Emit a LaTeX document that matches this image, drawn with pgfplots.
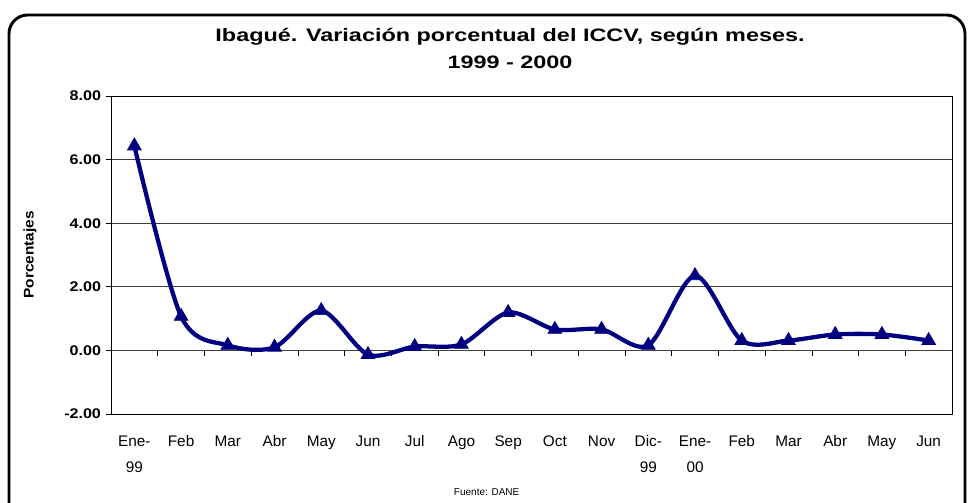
\documentclass[border=0pt]{standalone}
\usepackage{pgfplots}
\pgfplotsset{compat=1.18}
\usepackage{fontspec}
\setmainfont{Liberation Sans}
\definecolor{navy}{HTML}{000080}
\begin{document}
\begin{tikzpicture}
\useasboundingbox (0,0) rectangle (726pt,377.25pt);
\draw[line width=2.2pt, rounded corners=14pt] (6.75pt,-30pt) rectangle (723.75pt,366pt);
\node[font=\bfseries\fontsize{13.5}{15}\selectfont] at (382.5pt,350pt) {\scalebox{1.3}[1]{Ibagué. Variación porcentual del ICCV, según meses.}};
\node[font=\bfseries\fontsize{13.5}{15}\selectfont] at (382.5pt,330.5pt) {\scalebox{1.3}[1]{1999 - 2000}};
\node[font=\bfseries\fontsize{10.5}{12}\selectfont, rotate=90] at (22.5pt,186pt) {\scalebox{1.1}[1]{Porcentajes}};
\node[font=\fontsize{7.5}{9}\selectfont] at (365pt,8.25pt) {Fuente: DANE};
\begin{axis}[
  at={(83.25pt,66.75pt)}, anchor=south west,
  scale only axis, width=630.75pt, height=238.5pt,
  xmin=-0.5, xmax=17.5, ymin=-2, ymax=8,
  ytick={-2,0,2,4,6,8},
  ymajorgrids, grid style={black!75, line width=0.5pt},
  axis line style={black, line width=0.6pt},
  tick style={black, line width=0.5pt},
  ytick pos=left, tick align=outside,
  major tick length=4pt,
  /pgf/number format/assume math mode=true,
  yticklabel={\scalebox{1.15}[1]{\pgfmathprintnumber[fixed,fixed zerofill,precision=2]{\tick}}},
  yticklabel style={font=\bfseries\fontsize{10.5}{12}\selectfont},
  xtick={0,...,17},
  x tick style={draw=none},
  xticklabels={{\strut Ene-\\99},\strut Feb,\strut Mar,\strut Abr,\strut May,\strut Jun,\strut Jul,\strut Ago,\strut Sep,\strut Oct,\strut Nov,{\strut Dic-\\99},{\strut Ene-\\00},\strut Feb,\strut Mar,\strut Abr,\strut May,\strut Jun},
  xticklabel style={font=\fontsize{11.5}{19.5}\selectfont, align=center, anchor=north, yshift=-3.5pt},
  clip=false,
]
\pgfplotsinvokeforeach{-0.5,0.5,...,16.5}{\draw[black, line width=0.5pt] (axis cs:#1,0) -- ([yshift=-4pt]axis cs:#1,0);}
\draw[black!75, line width=0.5pt] (axis cs:-0.5,0) -- (axis cs:17.5,0);
\addplot[navy, line width=3.2pt, smooth, tension=0.5, mark=triangle*, mark size=6pt, mark options={solid, line width=0.5pt, fill=navy}] coordinates {
(0,6.43) (1,1.07) (2,0.16) (3,0.10) (4,1.25) (5,-0.13) (6,0.12) (7,0.19) (8,1.19)
(9,0.66) (10,0.66) (11,0.16) (12,2.35) (13,0.31) (14,0.31) (15,0.50) (16,0.50) (17,0.31)
};
\end{axis}
\end{tikzpicture}
\end{document}
